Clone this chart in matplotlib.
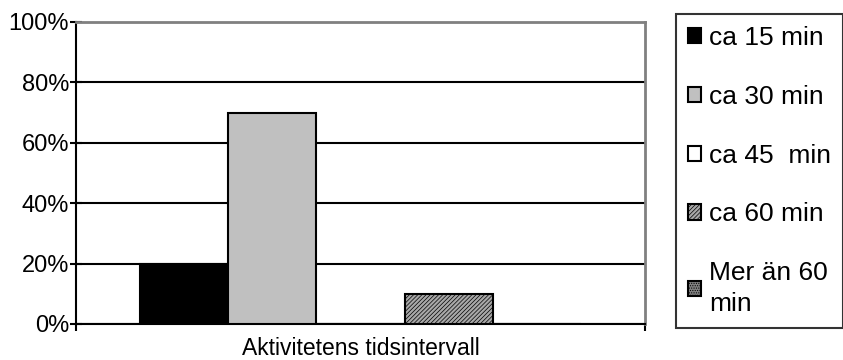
import matplotlib.pyplot as plt
import numpy as np

plt.rcParams['font.family'] = ['Liberation Sans', 'DejaVu Sans']
plt.rcParams['hatch.linewidth'] = 0.5

category = "Aktivitetens tidsintervall"
series = ["ca 15 min", "ca 30 min", "ca 45  min", "ca 60 min", "Mer än 60\nmin"]
values = [20, 70, 0, 10, 0]
colors = ['#000000', '#c0c0c0', '#ffffff', '#a8a8a8', '#808080']
hatches = [None, None, None, '////////', '.......']

fig = plt.figure(figsize=(8.43, 3.6), dpi=100)
ax = fig.add_axes([76 / 843, 36 / 360, 569 / 843, 302 / 360])

x = np.arange(len(series))
bw = 0.155
offsets = (x - (len(series) - 1) / 2) * bw
handles = []
for i, (lab, v) in enumerate(zip(series, values)):
    b = ax.bar(0.5 + offsets[i], v, width=bw, color=colors[i], edgecolor='black',
               linewidth=1.5, hatch=hatches[i], label=lab, zorder=3)
    handles.append(b)

ax.set_xlim(0, 1)
ax.set_ylim(0, 100)
ax.set_yticks([0, 20, 40, 60, 80, 100])
ax.set_yticklabels([f"{t}%" for t in [0, 20, 40, 60, 80, 100]], fontsize=17)
ax.set_xticks([0, 1])
ax.set_xticklabels([])
ax.tick_params(axis='y', direction='inout', length=8, width=1.5, pad=1)
ax.tick_params(axis='x', direction='out', length=5, width=1.5)
ax.set_xlabel(category, fontsize=16.5, labelpad=1)
ax.yaxis.grid(True, color='black', linewidth=1.5, zorder=0)
ax.set_axisbelow(True)
for s in ['top', 'right']:
    ax.spines[s].set_color('#808080')
    ax.spines[s].set_linewidth(2)
for s in ['left', 'bottom']:
    ax.spines[s].set_linewidth(1.5)

leg = fig.legend(handles=handles, labels=series, loc='upper left',
                 bbox_to_anchor=(676 / 843, 1 - 14 / 360), fontsize=19,
                 frameon=True, fancybox=False, edgecolor='black',
                 handlelength=0.5, handleheight=0.5, handletextpad=0.3,
                 labelspacing=1.32, borderpad=0.45, borderaxespad=0)
leg.get_frame().set_linewidth(1.5)
for t in leg.get_texts():
    t.set_linespacing(1.35)

fig.savefig('out.png', dpi=100)
